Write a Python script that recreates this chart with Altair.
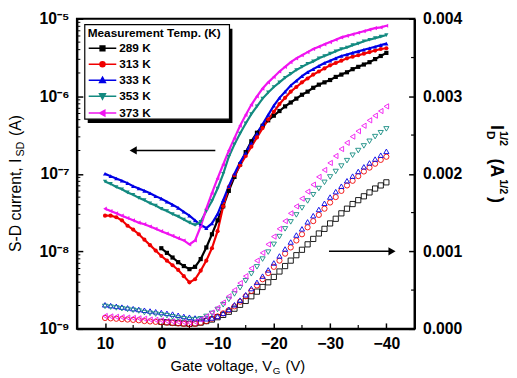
import altair as alt
import pandas as pd

# ---------------- data ----------------
gate_voltage = list(range(10, -41, -1))  # V_G sampling grid, 10 V ... -40 V

temps = ["289 K", "313 K", "333 K", "353 K", "373 K"]
colors = ["#000000", "#f00000", "#0000e6", "#138a80", "#f014f0"]

# log10 of S-D current (A), left axis, filled symbols
log_id_289 = [None, None, None, None, None, None, None, None, None, None,
              -7.96, -8.02, -8.08, -8.14, -8.19, -8.23, -8.20, -8.10, -7.95, -7.78,
              -7.60, -7.42, -7.22, -7.04, -6.88, -6.72, -6.58, -6.47, -6.38, -6.31,
              -6.25, -6.19, -6.13, -6.08, -6.03, -5.98, -5.94, -5.89, -5.85, -5.82,
              -5.79, -5.75, -5.72, -5.69, -5.65, -5.62, -5.59, -5.56, -5.52, -5.48, -5.44]
log_id_313 = [-7.54, -7.54, -7.56, -7.60, -7.67, -7.72, -7.78, -7.85, -7.92, -7.99,
              -8.06, -8.12, -8.18, -8.24, -8.32, -8.40, -8.36, -8.25, -8.12, -7.96,
              -7.74, -7.42, -7.17, -7.02, -6.89, -6.77, -6.65, -6.53, -6.41, -6.30,
              -6.20, -6.10, -6.02, -5.94, -5.88, -5.82, -5.77, -5.72, -5.68, -5.64,
              -5.60, -5.57, -5.54, -5.51, -5.49, -5.47, -5.45, -5.43, -5.41, -5.39, -5.38]
log_id_333 = [-7.00, -7.03, -7.06, -7.09, -7.12, -7.16, -7.19, -7.22, -7.25, -7.29,
              -7.32, -7.36, -7.40, -7.44, -7.49, -7.54, -7.60, -7.66, -7.70, -7.64,
              -7.52, -7.34, -7.16, -7.00, -6.85, -6.73, -6.60, -6.48, -6.36, -6.24,
              -6.12, -6.02, -5.94, -5.86, -5.80, -5.74, -5.69, -5.65, -5.61, -5.57,
              -5.54, -5.51, -5.48, -5.46, -5.44, -5.42, -5.40, -5.38, -5.36, -5.34, -5.32]
log_id_353 = [-7.10, -7.13, -7.17, -7.20, -7.24, -7.27, -7.31, -7.34, -7.38, -7.41,
              -7.45, -7.48, -7.52, -7.55, -7.59, -7.63, -7.66, -7.62, -7.48, -7.35,
              -7.19, -7.00, -6.78, -6.62, -6.48, -6.35, -6.23, -6.13, -6.03, -5.95,
              -5.88, -5.82, -5.76, -5.71, -5.66, -5.62, -5.58, -5.55, -5.51, -5.48,
              -5.45, -5.42, -5.39, -5.37, -5.34, -5.32, -5.29, -5.27, -5.25, -5.23, -5.21]
log_id_373 = [-7.45, -7.48, -7.51, -7.54, -7.57, -7.60, -7.63, -7.65, -7.68, -7.71,
              -7.74, -7.77, -7.80, -7.83, -7.86, -7.91, -7.86, -7.68, -7.45, -7.25,
              -7.06, -6.88, -6.70, -6.54, -6.38, -6.24, -6.11, -6.00, -5.90, -5.82,
              -5.75, -5.68, -5.62, -5.56, -5.51, -5.47, -5.43, -5.39, -5.36, -5.33,
              -5.30, -5.27, -5.24, -5.22, -5.20, -5.18, -5.16, -5.14, -5.12, -5.11, -5.09]

# I_D^(1/2) in units of 1e-3 A^(1/2), right axis, open symbols
sqrt_id_289 = [None, None, None, None, None, None, None, None, None, None,
               0.090, 0.085, 0.080, 0.075, 0.070, 0.065, 0.070, 0.080, 0.100, 0.120,
               0.150, 0.180, 0.220, 0.260, 0.310, 0.360, 0.420, 0.480, 0.540, 0.600,
               0.670, 0.740, 0.810, 0.880, 0.950, 1.020, 1.090, 1.160, 1.230, 1.290,
               1.360, 1.420, 1.490, 1.550, 1.610, 1.660, 1.710, 1.760, 1.810, 1.850, 1.890]
sqrt_id_313 = [0.140, 0.135, 0.130, 0.125, 0.120, 0.115, 0.110, 0.100, 0.095, 0.090,
               0.085, 0.080, 0.075, 0.070, 0.065, 0.060, 0.065, 0.080, 0.100, 0.130,
               0.160, 0.200, 0.240, 0.290, 0.350, 0.420, 0.490, 0.560, 0.640, 0.720,
               0.800, 0.880, 0.970, 1.050, 1.140, 1.220, 1.310, 1.390, 1.470, 1.550,
               1.630, 1.700, 1.780, 1.850, 1.910, 1.970, 2.030, 2.080, 2.130, 2.180, 2.220]
sqrt_id_333 = [0.310, 0.300, 0.290, 0.280, 0.270, 0.260, 0.250, 0.240, 0.230, 0.220,
               0.210, 0.200, 0.190, 0.175, 0.160, 0.150, 0.140, 0.130, 0.130, 0.140,
               0.160, 0.200, 0.250, 0.310, 0.370, 0.440, 0.520, 0.600, 0.680, 0.760,
               0.850, 0.940, 1.030, 1.120, 1.210, 1.290, 1.380, 1.460, 1.540, 1.620,
               1.700, 1.770, 1.840, 1.910, 1.970, 2.030, 2.090, 2.140, 2.190, 2.240, 2.290]
sqrt_id_353 = [0.290, 0.280, 0.270, 0.260, 0.250, 0.240, 0.230, 0.210, 0.200, 0.190,
               0.180, 0.170, 0.155, 0.140, 0.130, 0.120, 0.120, 0.130, 0.160, 0.200,
               0.250, 0.310, 0.380, 0.450, 0.530, 0.620, 0.710, 0.800, 0.900, 0.990,
               1.090, 1.190, 1.290, 1.380, 1.470, 1.560, 1.650, 1.730, 1.810, 1.890,
               1.960, 2.030, 2.100, 2.170, 2.240, 2.300, 2.360, 2.420, 2.480, 2.530, 2.580]
sqrt_id_373 = [0.165, 0.160, 0.155, 0.150, 0.145, 0.140, 0.135, 0.130, 0.120, 0.115,
               0.110, 0.100, 0.095, 0.090, 0.085, 0.080, 0.090, 0.120, 0.160, 0.210,
               0.270, 0.340, 0.420, 0.500, 0.590, 0.680, 0.780, 0.880, 0.980, 1.090,
               1.190, 1.290, 1.390, 1.490, 1.580, 1.680, 1.770, 1.860, 1.960, 2.050,
               2.140, 2.230, 2.320, 2.400, 2.480, 2.550, 2.620, 2.690, 2.750, 2.810, 2.870]

# arrows (data coordinates)
left_arrow_v = [5.0, -9.6]
left_arrow_i = 2e-7
right_arrow_v = [-29.8, -41.0]
right_arrow_s = 0.001

left_ticks = [1e-9, 1e-8, 1e-7, 1e-6, 1e-5]
left_minor = [m * d for d in [1e-9, 1e-8, 1e-7, 1e-6] for m in [2, 3, 4, 5, 6, 7, 8, 9]]
right_ticks = [0.0, 0.001, 0.002, 0.003, 0.004]
right_minor = [0.0005, 0.0015, 0.0025, 0.0035]
x_ticks = [10, 0, -10, -20, -30, -40]
x_minor = [5, -5, -15, -25, -35]

# ---------------- tables ----------------
log_rows, sqrt_rows = [], []
for t, la, sa in zip(temps,
                     [log_id_289, log_id_313, log_id_333, log_id_353, log_id_373],
                     [sqrt_id_289, sqrt_id_313, sqrt_id_333, sqrt_id_353, sqrt_id_373]):
    for v, lv, sv in zip(gate_voltage, la, sa):
        if lv is not None:
            log_rows.append({"T": t, "V": v, "logI": lv})
        if sv is not None:
            sqrt_rows.append({"T": t, "V": v, "s3": sv})
df_log = pd.DataFrame(log_rows)
df_sqrt = pd.DataFrame(sqrt_rows)
one = pd.DataFrame({"k": [0]})

FONT = "Liberation Sans"
W, H = 343, 315

x_scale = alt.Scale(domain=[15, -45], nice=False, zero=False)
x_axis = alt.Axis(values=x_ticks, title=None, labelFont=FONT, labelFontSize=16,
                  labelFontWeight="bold", labelColor="black", tickSize={"expr": "-6"},
                  tickWidth=1.5, tickColor="black", domainColor="black", domainWidth=2,
                  grid=False, labelPadding=13, orient="bottom")
yl_scale = alt.Scale(type="log", domain=[1e-9, 1e-5], nice=False)
sup = ("datum.value < 3e-9 ? '10\u207b\u2079' : datum.value < 3e-8 ? '10\u207b\u2078' : "
       "datum.value < 3e-7 ? '10\u207b\u2077' : datum.value < 3e-6 ? '10\u207b\u2076' : '10\u207b\u2075'")
yl_axis = alt.Axis(values=left_ticks, labelExpr=sup, title=None, orient="left",
                   labelFont=FONT, labelFontSize=16, labelFontWeight="bold", labelColor="black",
                   tickSize={"expr": "-6"}, tickWidth=1.5, tickColor="black",
                   domainColor="black", domainWidth=2, grid=False, labelPadding=14)
yr_scale = alt.Scale(domain=[0, 0.004], nice=False, zero=False)
yr_axis = alt.Axis(values=right_ticks, format=".3f", title=None, orient="right",
                   labelFont=FONT, labelFontSize=16, labelFontWeight="bold", labelColor="black",
                   tickSize={"expr": "-6"}, tickWidth=1.5, tickColor="black",
                   domainColor="black", domainWidth=2, grid=False, labelPadding=14)

c_scale = alt.Scale(domain=temps, range=colors)
shapes = ["square", "circle", "triangle-up", "triangle-down", "triangle-left"]
s_scale = alt.Scale(domain=temps, range=shapes)

X = alt.X("V:Q", scale=x_scale, axis=x_axis)

# ---------------- left (log) group ----------------
base_log = alt.Chart(df_log).transform_calculate(I="pow(10, datum.logI)").encode(
    x=X,
    y=alt.Y("I:Q", scale=yl_scale, axis=yl_axis),
    color=alt.Color("T:N", scale=c_scale, legend=None),
)
lines = base_log.mark_line(strokeWidth=2.2)
pts = base_log.mark_point(filled=True, size=18, opacity=1).encode(
    shape=alt.Shape("T:N", scale=s_scale, legend=None))

la_df = pd.DataFrame({"V": [left_arrow_v[0]], "V2": [left_arrow_v[1]], "I": [left_arrow_i]})
l_arrow = alt.Chart(la_df).mark_rule(color="black", strokeWidth=1.5).encode(
    x=X, x2="V2:Q", y=alt.Y("I:Q", scale=yl_scale, axis=yl_axis))
l_head = alt.Chart(la_df).mark_point(shape="triangle-left", filled=True, color="black",
                                     size=70, opacity=1).encode(
    x=X, y=alt.Y("I:Q", scale=yl_scale, axis=yl_axis))

lm_df = pd.DataFrame({"I": left_minor})
l_minor = alt.Chart(lm_df).mark_tick(orient="horizontal", color="black", size=3.5,
                                     thickness=1, opacity=1).encode(
    x=alt.value(1.75), y=alt.Y("I:Q", scale=yl_scale, axis=yl_axis))
xm_df = pd.DataFrame({"V": x_minor})
x_minor_ticks = alt.Chart(xm_df).mark_tick(orient="vertical", color="black", size=4,
                                           thickness=1.2, opacity=1).encode(
    x=X, y=alt.value(H - 2))

shadow = alt.Chart(one).mark_rect(color="black").encode(
    x=alt.value(11), x2=alt.value(158), y=alt.value(10), y2=alt.value(106))
box = alt.Chart(one).mark_rect(fill="white", stroke="black", strokeWidth=1.2).encode(
    x=alt.value(8), x2=alt.value(155), y=alt.value(6), y2=alt.value(102))


def txt(s, x, y, size=15, angle=0, weight="normal", align="left"):
    return alt.Chart(one).mark_text(text=s, font=FONT, fontSize=size, angle=angle,
                                    fontWeight=weight, align=align, baseline="middle",
                                    color="black").encode(x=alt.value(x), y=alt.value(y))


titles = [
    txt("Gate voltage, V", 95, 353),
    txt("G", 199, 358, size=10),
    txt("(V)", 212, 353),
    txt("S-D current, I", -62, 237, size=16, angle=270),
    txt("SD", -57, 140, size=11, angle=270),
    txt("(A)", -62, 119, size=16, angle=270),
    txt("I", 426, 108, size=18, angle=90, weight="bold"),
    txt("D", 421, 114, size=12, angle=90, weight="bold"),
    txt("1/2", 433, 114, size=11, angle=90, weight="bold"),
    txt("(A", 426, 142, size=18, angle=90, weight="bold"),
    txt("1/2", 433, 163, size=11, angle=90, weight="bold"),
    txt(")", 426, 181, size=18, angle=90, weight="bold"),
]

left_group = alt.layer(shadow, box, l_minor, x_minor_ticks, lines, pts, l_arrow, l_head, *titles)

# ---------------- right (linear) group ----------------
base_sq = alt.Chart(df_sqrt).transform_calculate(S="datum.s3 / 1000").encode(
    x=X,
    y=alt.Y("S:Q", scale=yr_scale, axis=yr_axis),
    color=alt.Color("T:N", scale=c_scale, legend=None),
    shape=alt.Shape("T:N", scale=s_scale, legend=None),
)
open_pts = base_sq.mark_point(filled=False, size=28, strokeWidth=0.9, opacity=1)

ra_df = pd.DataFrame({"V": [right_arrow_v[0]], "V2": [right_arrow_v[1]], "S": [right_arrow_s]})
r_arrow = alt.Chart(ra_df).mark_rule(color="black", strokeWidth=1.5).encode(
    x=X, x2="V2:Q", y=alt.Y("S:Q", scale=yr_scale, axis=yr_axis))
r_head = alt.Chart(ra_df).mark_point(shape="triangle-right", filled=True, color="black",
                                     size=70, opacity=1).encode(
    x=alt.X("V2:Q", scale=x_scale, axis=x_axis), y=alt.Y("S:Q", scale=yr_scale, axis=yr_axis))

rm_df = pd.DataFrame({"S": right_minor})
r_minor = alt.Chart(rm_df).mark_tick(orient="horizontal", color="black", size=3.5,
                                     thickness=1.2, opacity=1).encode(
    x=alt.value(W - 1.75), y=alt.Y("S:Q", scale=yr_scale, axis=yr_axis))

right_group = alt.layer(open_pts, r_arrow, r_head, r_minor)

# ---------------- legend (line + marker symbols) ----------------
# custom symbols: a short line with the series marker in its middle
legend_paths = [
    "M-1,0H2.5M0.45,-0.3H1.05V0.3H0.45Z",
    "M-1,0H2.5M1.07,0A0.32,0.32 0 1,1 0.43,0A0.32,0.32 0 1,1 1.07,0Z",
    "M-1,0H2.5M0.75,-0.38L1.12,0.3L0.38,0.3Z",
    "M-1,0H2.5M0.75,0.38L1.12,-0.3L0.38,-0.3Z",
    "M-1,0H2.5M0.37,0L1.05,-0.37L1.05,0.37Z",
]
leg = alt.Legend(title="Measurement Temp. (K)", orient="none", legendX=11, legendY=9,
                 titleFont=FONT, titleFontSize=12, titleFontWeight="bold", titleColor="black",
                 labelFont=FONT, labelFontSize=12, labelFontWeight="bold", labelColor="black",
                 symbolSize=256, symbolStrokeWidth=1.5, rowPadding=1.2, titlePadding=0,
                 padding=0, labelOffset=14, symbolOpacity=1)
legend_layer = alt.Chart(df_log).transform_filter("false").mark_point(
    filled=True, size=256, strokeWidth=1.5, opacity=1).encode(
    shape=alt.Shape("T:N", scale=alt.Scale(domain=temps, range=legend_paths), legend=leg),
    fill=alt.Fill("T:N", scale=alt.Scale(domain=temps, range=colors), legend=leg),
    stroke=alt.Stroke("T:N", scale=alt.Scale(domain=temps, range=colors), legend=leg),
)

chart = alt.layer(left_group, right_group, legend_layer).resolve_scale(
    y="independent", shape="independent", color="independent",
    fill="independent", stroke="independent",
).properties(width=W, height=H, padding=0, background="white").configure_view(
    stroke="black", strokeWidth=2)

chart.save("out.html", embed_options={"renderer": "svg", "actions": False})
